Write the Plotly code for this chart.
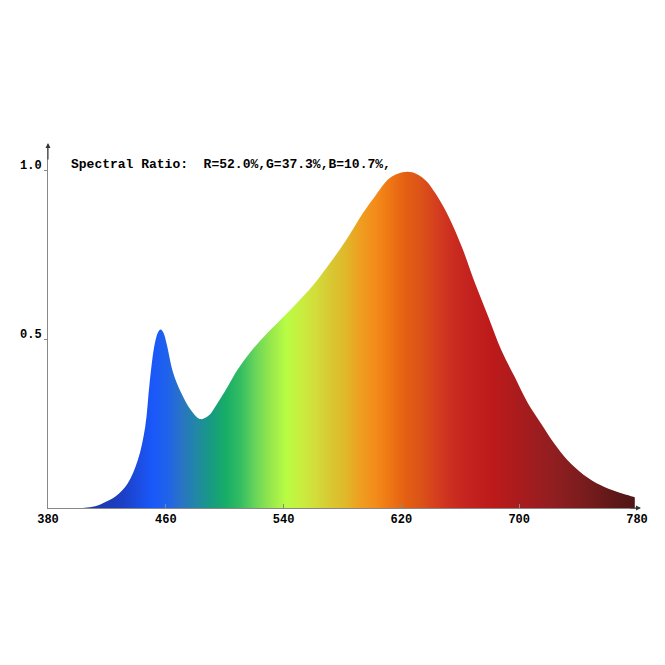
import plotly.graph_objects as go

# Spectrum (wavelength nm, relative intensity)
wavelength = [380, 400, 405, 412, 419, 426, 434, 441, 446, 449, 452.6, 455, 456.6, 458.5, 460.6, 465,
              470.5, 477, 483.5, 489.5, 493, 502, 508.6, 517.6, 526.6, 537.8, 548.9, 560.2, 571.4,
              582.5, 593.8, 602.7, 611.7, 620.7, 627.4, 636.3, 643.1, 652.1, 661, 670, 679,
              687.9, 696.9, 705.9, 714.8, 723.8, 732.7, 743.9, 755.1, 766.3, 777.5, 778.5]
intensity = [0.0, 0.0, 0.001, 0.005, 0.018, 0.035, 0.072, 0.142, 0.24, 0.37, 0.488, 0.522, 0.528,
             0.518, 0.485, 0.40, 0.34, 0.29, 0.263, 0.275, 0.296, 0.359, 0.408, 0.462, 0.507,
             0.556, 0.606, 0.66, 0.724, 0.793, 0.872, 0.926, 0.975, 0.993, 0.993, 0.970, 0.931,
             0.862, 0.773, 0.665, 0.566, 0.467, 0.388, 0.31, 0.25, 0.191, 0.142, 0.098, 0.068,
             0.048, 0.033, 0.031]

# Colour of the spectrum at given wavelengths
color_wl = [380, 430, 450, 460, 470, 480, 490, 500, 510, 520, 530, 540, 550, 560, 570,
            580, 590, 600, 610, 620, 630, 640, 650, 660, 680, 700, 720, 740, 760, 780]
color_hex = ["#1a2f8a", "#1c3fc4", "#1a58fa", "#1f62ec", "#2a74c4", "#2188a4", "#169c80",
             "#18ae66", "#36be62", "#6cd65a", "#98e84c", "#b8fc44", "#c8ee40", "#d2dc3a",
             "#d8c832", "#e0b82a", "#ee9e20", "#f48c1a", "#ee7614", "#e46012", "#dc5418",
             "#d6401e", "#cc3020", "#c62420", "#bc1a1a", "#a61c1e", "#901e20", "#7a1c1e",
             "#601818", "#4a1414"]

x_ticks = [380, 460, 540, 620, 700, 780]
y_ticks = [0.5, 1.0]
y_tick_text = ["0.5", "1.0"]
title_text = "Spectral Ratio:\u00a0\u00a0R=52.0%,G=37.3%,B=10.7%,"

lo, hi = color_wl[0], color_wl[-1]
colorscale = [[(w - lo) / (hi - lo), c] for w, c in zip(color_wl, color_hex)]

FONT = "Courier New, Liberation Mono, monospace"

fig = go.Figure()
fig.add_trace(go.Scatter(
    x=wavelength, y=intensity, mode="lines",
    line=dict(shape="spline", smoothing=1.0, width=0),
    fill="tozeroy",
    fillgradient=dict(type="horizontal", colorscale=colorscale, start=lo, stop=hi),
    hoverinfo="skip", showlegend=False,
))

fig.update_layout(
    width=665, height=665,
    margin=dict(l=34, r=36, t=138, b=165),
    paper_bgcolor="white", plot_bgcolor="white",
    showlegend=False,
    font=dict(family=FONT, size=12, color="black", weight="bold"),
    xaxis=dict(
        range=[380, 780], showgrid=False, zeroline=False,
        showline=True, linecolor="#888888", linewidth=1,
        tickvals=x_ticks, ticktext=[str(v) for v in x_ticks],
        ticks="inside", ticklen=4, tickcolor="#888888", tickwidth=1,
        tickfont=dict(family=FONT, size=12, color="black", weight="bold"),
        ticklabelstandoff=0,
    ),
    yaxis=dict(
        range=[0, 1.071], showgrid=False, zeroline=False,
        showline=True, linecolor="#888888", linewidth=1,
        tickvals=y_ticks, ticktext=y_tick_text,
        ticks="outside", ticklen=3, tickcolor="#888888", tickwidth=1,
        tickfont=dict(family=FONT, size=12, color="black", weight="bold"),
        ticklabelstandoff=0, ticklabelshift=-5,
    ),
    annotations=[
        dict(xref="paper", yref="paper", x=0.0353, y=0.950, xanchor="left", yanchor="middle",
             text=title_text, showarrow=False,
             font=dict(family=FONT, size=13, color="black", weight="bold")),
        dict(xref="paper", yref="paper", x=0, y=1, yshift=3, ax=0, ay=18, text="",
             showarrow=True, arrowhead=2, arrowsize=1, arrowwidth=1, arrowcolor="#333333"),
        dict(xref="paper", yref="paper", x=1, y=0, xshift=4, ax=-12, ay=0, text="",
             showarrow=True, arrowhead=2, arrowsize=1, arrowwidth=1, arrowcolor="#333333"),
    ],
)

fig.write_html("out.html")
